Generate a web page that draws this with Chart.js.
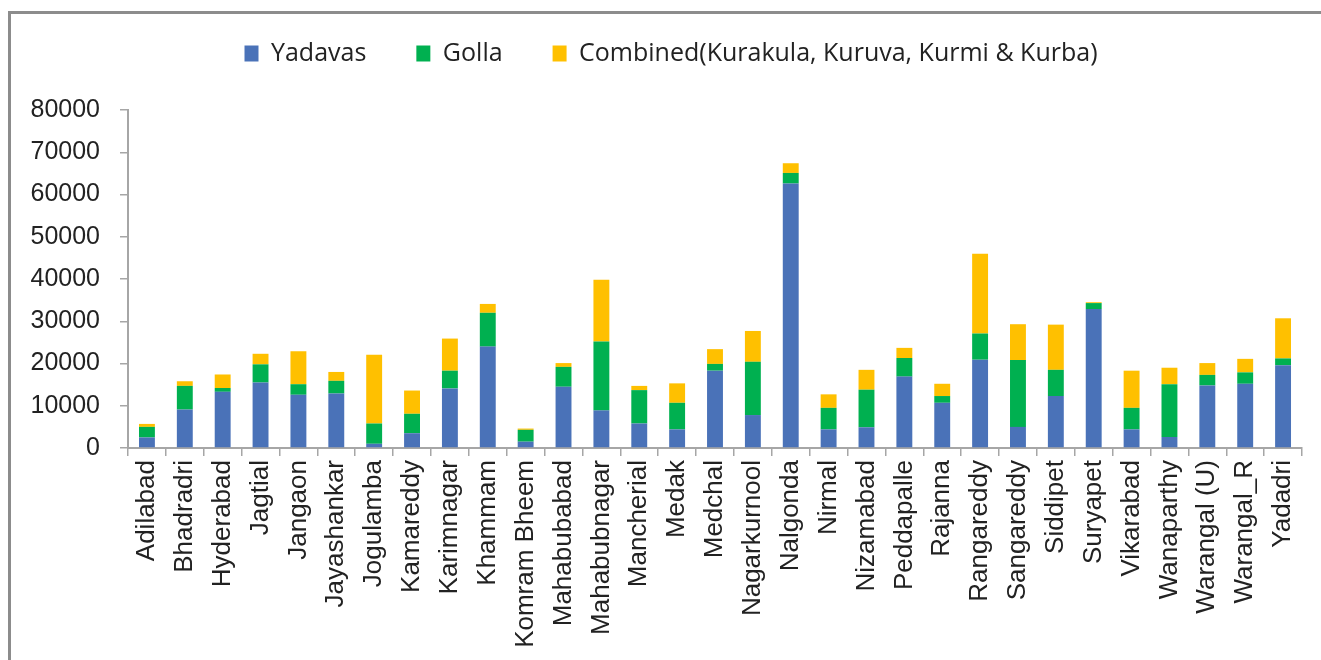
<!DOCTYPE html>
<html>
<head>
<meta charset="utf-8">
<script src="https://cdn.jsdelivr.net/npm/chart.js@4/dist/chart.umd.min.js"></script>
<style>
  html, body { margin: 0; padding: 0; background: #fff; overflow: hidden; }
  #frame {
    position: absolute; left: 8px; top: 11px; width: 1400px; height: 700px;
    border-top: 3px solid #8c8c8c; border-left: 3px solid #8c8c8c;
    pointer-events: none; z-index: 2;
  }
  #wrap { position: absolute; left: 0; top: -11px; width: 1321px; height: 671px; }
</style>
</head>
<body>
<div id="frame"></div>
<div id="wrap"><canvas id="chart"></canvas></div>
<script>
const districts = ['Adilabad', 'Bhadradri', 'Hyderabad', 'Jagtial', 'Jangaon', 'Jayashankar',
  'Jogulamba', 'Kamareddy', 'Karimnagar', 'Khammam', 'Komram Bheem', 'Mahabubabad',
  'Mahabubnagar', 'Mancherial', 'Medak', 'Medchal', 'Nagarkurnool', 'Nalgonda', 'Nirmal',
  'Nizamabad', 'Peddapalle', 'Rajanna', 'Rangareddy', 'Sangareddy', 'Siddipet', 'Suryapet',
  'Vikarabad', 'Wanaparthy', 'Warangal (U)', 'Warangal_R', 'Yadadri'];

const yadavas  = [2500, 9100, 13300, 15500, 12600, 12900, 1000, 3500, 14100, 24000, 1500, 14500,
  8900, 5800, 4400, 18300, 7800, 62600, 4400, 4900, 16900, 10700, 20900, 5000, 12300, 32900,
  4400, 2600, 14800, 15200, 19600];
const golla    = [2500, 5600, 900, 4300, 2500, 3000, 4800, 4600, 4200, 8000, 2800, 4700,
  16300, 7900, 6300, 1600, 12600, 2500, 5100, 8900, 4400, 1600, 6200, 15800, 6200, 1400,
  5100, 12500, 2500, 2700, 1600];
const combined = [700, 1100, 3200, 2500, 7800, 2100, 16300, 5500, 7600, 2100, 300, 900,
  14600, 1000, 4600, 3500, 7300, 2300, 3200, 4700, 2400, 2900, 18900, 8500, 10700, 200,
  8800, 3900, 2800, 3200, 9500];

const seriesNames = ['Yadavas', 'Golla', 'Combined(Kurakula, Kuruva, Kurmi & Kurba)'];
const seriesColors = ['#4A72B8', '#00B050', '#FFC000'];
const yTicks = [0, 10000, 20000, 30000, 40000, 50000, 60000, 70000, 80000];

// legend gets a fixed height so the plot starts where the original does,
// and is nudged right/down to sit where the original one is
const legendSpace = {
  id: 'legendSpace',
  afterInit(chart) {
    const fit = chart.legend.fit;
    chart.legend.fit = function () { fit.call(this); this.height = 121; };
  },
  afterLayout(chart) {
    const lg = chart.legend;
    lg.left += 20; lg.right += 20;
    lg.top += 2; lg.bottom += 2;
  }
};

const axisColor = '#A6A6A6';
const txt = '#222';

new Chart(document.getElementById('chart'), {
  type: 'bar',
  data: {
    labels: districts,
    datasets: [yadavas, golla, combined].map((d, i) => ({
      label: seriesNames[i],
      data: d,
      backgroundColor: seriesColors[i],
      borderWidth: 0,
      categoryPercentage: 1,
      barPercentage: 0.42,
    })),
  },
  options: {
    responsive: true,
    maintainAspectRatio: false,
    animation: false,
    layout: { padding: { left: 0, right: 19, top: 0, bottom: 0 } },
    plugins: {
      tooltip: { enabled: false },
      legend: {
        position: 'top',
        labels: {
          boxWidth: 14, boxHeight: 16, padding: 50, color: txt,
          font: { family: 'Open Sans', size: 25 },
        },
      },
    },
    scales: {
      x: {
        stacked: true,
        afterFit(s) { s.height = 212; },
        border: { display: true, color: axisColor, width: 2 },
        grid: { display: true, drawOnChartArea: false, offset: true, tickLength: 8, color: axisColor, lineWidth: 1.5 },
        ticks: {
          autoSkip: false, minRotation: 90, maxRotation: 90, padding: 4, color: txt,
          font: { family: 'Liberation Sans', size: 26 },
        },
      },
      y: {
        stacked: true,
        min: 0, max: 80000,
        afterFit(s) { s.width = 128; },
        afterBuildTicks(s) { s.ticks = yTicks.map(v => ({ value: v })); },
        border: { display: true, color: axisColor, width: 2 },
        grid: { display: true, drawOnChartArea: false, tickLength: 8, color: axisColor, lineWidth: 1.5 },
        ticks: {
          padding: 20, color: txt,
          font: { family: 'Liberation Sans', size: 25 },
          callback: v => String(v),
        },
      },
    },
  },
  plugins: [legendSpace],
});
</script>
</body>
</html>
